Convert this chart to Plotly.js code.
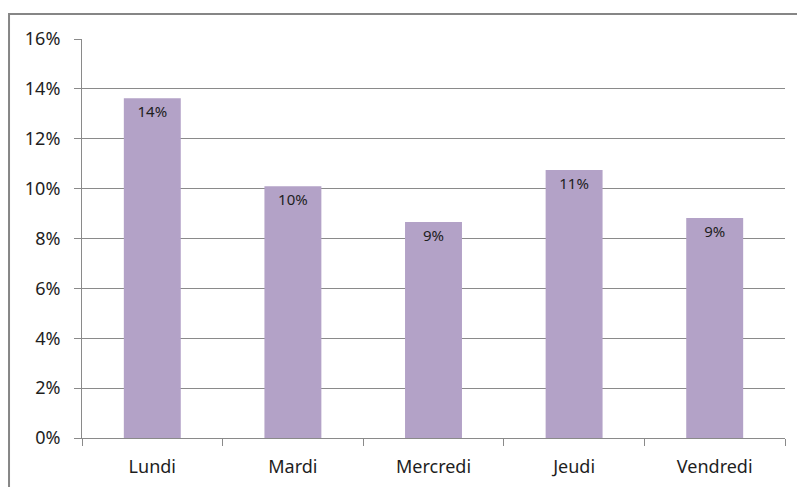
<!DOCTYPE html>
<html>
<head>
<meta charset="utf-8">
<script src="https://cdn.plot.ly/plotly-3.0.1.min.js"></script>
<style>html,body{margin:0;padding:0;background:#fff;}#chart{width:797px;height:487px;}</style>
</head>
<body>
<div id="chart"></div>
<script>
const days = ["Lundi", "Mardi", "Mercredi", "Jeudi", "Vendredi"];
const shares = [13.62, 10.1, 8.66, 10.75, 8.82];
const yTicks = [0, 2, 4, 6, 8, 10, 12, 14, 16];

const font = "Noto Sans, Liberation Sans, sans-serif";
const trace = {
  type: "bar",
  x: days,
  y: shares,
  marker: {color: "#B3A2C7", line: {width: 0}},
  width: 0.405,
  texttemplate: "%{y:.0f}%",
  textposition: "inside",
  insidetextanchor: "end",
  textangle: 0,
  insidetextfont: {family: font, size: 15, color: "#1e1e1e"},
  hoverinfo: "none"
};
const layout = {
  width: 797, height: 487,
  margin: {l: 82, r: 12, t: 39, b: 49},
  paper_bgcolor: "#fff", plot_bgcolor: "#fff",
  showlegend: false,
  font: {family: font, size: 18, color: "#1e1e1e"},
  xaxis: {
    type: "category",
    showgrid: false,
    showline: true, linecolor: "#8a8a8a", linewidth: 1,
    ticks: "outside", tickson: "boundaries", ticklen: 7, tickcolor: "#8a8a8a",
    tickfont: {family: font, size: 18, color: "#1e1e1e"},
    ticklabelstandoff: 12
  },
  yaxis: {
    range: [0, 16],
    tickvals: yTicks,
    ticktext: yTicks.map(v => v + "%"),
    showgrid: true, gridcolor: "#8a8a8a", gridwidth: 1,
    showline: true, linecolor: "#8a8a8a", linewidth: 1,
    ticks: "outside", ticklen: 7, tickcolor: "#8a8a8a",
    tickfont: {family: font, size: 18, color: "#1e1e1e"},
    ticklabelstandoff: 10,
    zeroline: false
  },
  shapes: [{
    type: "rect", xref: "paper", yref: "paper",
    x0: -0.1038, x1: 1.03, y0: -0.15, y1: 1.0627,
    line: {color: "#868686", width: 2}
  }]
};
Plotly.newPlot("chart", [trace], layout, {staticPlot: true, displayModeBar: false});
</script>
</body>
</html>
